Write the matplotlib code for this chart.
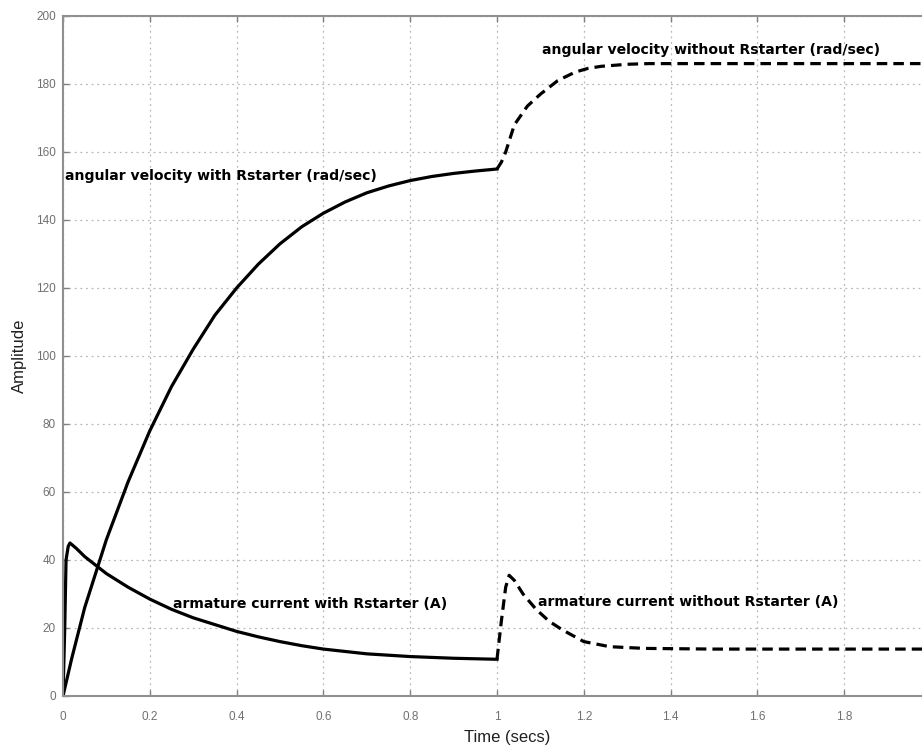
import matplotlib.pyplot as plt

# readings from the scope (time in s)
t_w = [0, 0.02, 0.05, 0.08, 0.1, 0.15, 0.2, 0.25, 0.3, 0.35, 0.4, 0.45, 0.5,
       0.55, 0.6, 0.65, 0.7, 0.75, 0.8, 0.85, 0.9, 0.95, 1.0]
vel_w = [0, 11, 26, 38, 46, 63, 78, 91, 102, 112, 120, 127, 133,
         138, 142, 145.3, 148, 150, 151.6, 152.8, 153.7, 154.4, 155]

t_cw = [0, 0.004, 0.007, 0.012, 0.016, 0.03, 0.05, 0.08, 0.1, 0.15, 0.2, 0.25,
        0.3, 0.35, 0.4, 0.45, 0.5, 0.55, 0.6, 0.7, 0.8, 0.9, 1.0]
cur_w = [0, 20, 40, 44, 45, 43.5, 41, 38, 36, 32, 28.5, 25.5,
         23, 21, 19, 17.4, 16, 14.8, 13.8, 12.4, 11.6, 11.1, 10.8]

t_wo = [1.0, 1.01, 1.02, 1.04, 1.07, 1.1, 1.14, 1.18, 1.21, 1.24, 1.3, 1.35,
        1.5, 1.7, 2.0]
vel_wo = [155, 157, 160, 168, 173.5, 177, 181, 183.5, 184.6, 185.2, 185.8, 186,
          186, 186, 186]

t_cwo = [1.0, 1.01, 1.02, 1.028, 1.04, 1.06, 1.09, 1.12, 1.15, 1.2, 1.26,
         1.34, 1.5, 1.7, 2.0]
cur_wo = [10.8, 22, 32, 35.5, 34, 30, 25.5, 22, 19.5, 16, 14.5,
          14, 13.8, 13.8, 13.8]

xticks = [0, 0.2, 0.4, 0.6, 0.8, 1, 1.2, 1.4, 1.6, 1.8]
xticklabels = ['0', '0.2', '0.4', '0.6', '0.8', '1', '1.2', '1.4', '1.6', '1.8']
yticks = list(range(0, 201, 20))

plt.rcParams['font.family'] = ['Liberation Sans', 'DejaVu Sans']

fig = plt.figure(figsize=(9.22, 7.51), dpi=100)
ax = fig.add_axes([63 / 922, 55 / 751, 868 / 922, 680 / 751])

lw = 2.3
ax.plot(t_w, vel_w, color='black', lw=lw)
ax.plot(t_cw, cur_w, color='black', lw=lw)
ax.plot(t_wo, vel_wo, color='black', lw=lw, ls=(0, (3.3, 1.9)))
ax.plot(t_cwo, cur_wo, color='black', lw=lw, ls=(0, (3.3, 1.9)))

ax.set_xlim(0, 2)
ax.set_ylim(0, 200)
ax.set_xticks(xticks)
ax.set_xticklabels(xticklabels)
ax.set_yticks(yticks)
ax.grid(True, color='#b8b8b8', ls=(0, (1.5, 3)), lw=0.9)
ax.tick_params(direction='in', length=4, width=1, color='#808080',
               labelsize=8.5, labelcolor='#707070', top=True, right=False)
ax.tick_params(axis='x', pad=11)
ax.tick_params(axis='y', pad=5)
for side in ['left', 'bottom', 'top']:
    ax.spines[side].set_color('#909090')
    ax.spines[side].set_linewidth(1.5)
ax.spines['right'].set_visible(False)

ax.set_xlabel('Time (secs)', fontsize=12, color='#202020')
ax.set_ylabel('Amplitude', fontsize=12, color='#202020')
ax.xaxis.set_label_coords(0.512, -0.05)
ax.yaxis.set_label_coords(-0.041, 0.5)

tfont = dict(fontsize=10.1, fontweight='bold', va='center', ha='left',
             family='DejaVu Sans')
ax.text(0.005, 153, 'angular velocity with Rstarter (rad/sec)', **tfont)
ax.text(1.104, 190, 'angular velocity without Rstarter (rad/sec)', **tfont)
ax.text(0.253, 27, 'armature current with Rstarter (A)', **tfont)
ax.text(1.094, 27.6, 'armature current without Rstarter (A)', **tfont)

fig.savefig('out.png', dpi=100)
